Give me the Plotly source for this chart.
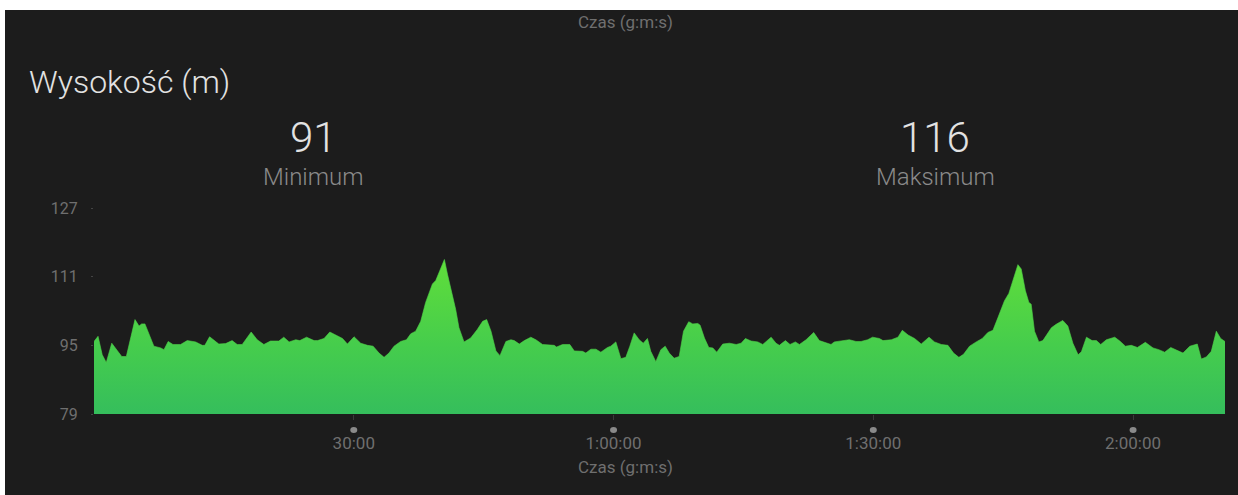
import plotly.graph_objects as go

# elapsed time in seconds
time_s = [0,28,57,85,123,192,224,284,312,330,353,415,462,485,514,547,600,646,704,750,768,801,865,912,957,992,1027,1089,1131,1177,1223,1281,1315,1352,1398,1426,1473,1525,1549,1594,1634,1675,1722,1756,1802,1848,1895,1934,1975,2010,2044,2079,2125,2165,2195,2229,2264,2298,2345,2368,2402,2428,2449,2483,2506,2529,2564,2610,2656,2693,2721,2751,2785,2813,2854,2889,2912,2947,2982,3027,3062,3108,3155,3189,3205,3247,3297,3328,3385,3408,3443,3478,3512,3558,3581,3616,3651,3685,3713,3743,3778,3806,3835,3858,3893,3928,3958,3986,4020,4055,4085,4121,4149,4184,4200,4230,4260,4288,4315,4357,4403,4450,4484,4514,4553,4599,4634,4661,4692,4726,4749,4791,4823,4860,4888,4934,4987,5026,5072,5107,5130,5187,5234,5280,5315,5361,5395,5442,5467,5525,5571,5601,5641,5686,5732,5786,5824,5871,5917,5956,5993,6025,6067,6113,6155,6194,6229,6263,6309,6339,6371,6402,6425,6454,6478,6494,6517,6547,6575,6634,6667,6713,6748,6783,6819,6842,6877,6916,6946,6976,7015,7073,7108,7147,7188,7230,7285,7338,7378,7419,7461,7507,7546,7593,7645,7673,7708,7742,7777,7807,7830,7837]

# elevation in metres
elevation_m = [95.9,97.1,92.8,91.0,95.5,92.4,92.4,101.0,99.5,100.0,100.0,94.8,94.4,94.0,95.9,95.2,95.2,96.1,95.8,95.0,95.0,97.0,95.3,95.4,96.1,95.2,95.2,98.1,96.3,95.2,96.0,96.0,96.9,95.8,96.3,96.1,96.9,96.1,96.1,96.6,98.1,97.4,96.6,95.3,97.0,95.5,95.0,94.8,93.2,92.2,93.2,94.8,95.9,96.3,97.7,98.3,100.6,105.0,109.3,110.1,112.8,115.0,111.6,107.0,103.4,99.1,95.8,96.7,98.7,100.6,101.0,98.3,93.7,92.6,95.9,96.3,96.1,95.3,96.1,96.9,96.3,95.2,95.0,95.0,94.6,95.2,95.2,93.7,93.6,93.2,94.1,94.1,93.4,94.5,94.8,95.8,91.9,92.2,94.8,97.9,96.3,95.5,96.6,93.6,91.2,94.0,94.8,93.2,92.0,92.4,98.3,100.5,100.0,100.1,99.7,96.7,94.5,94.4,93.4,95.3,95.5,95.2,95.5,96.6,96.0,95.8,95.2,96.0,96.9,95.5,95.0,96.1,95.2,95.8,95.2,96.3,98.0,96.1,95.5,95.2,95.8,96.1,96.3,95.9,95.9,96.3,96.9,96.6,96.1,96.3,96.9,98.5,97.4,96.6,95.3,96.9,95.8,95.2,95.0,93.2,92.2,92.9,94.8,95.8,96.6,98.0,98.5,101.4,105.4,107.1,110.5,113.8,112.8,107.7,105.0,104.6,98.3,95.8,96.1,99.1,99.9,100.8,99.5,95.5,92.8,93.5,96.9,96.1,96.1,95.2,96.3,96.9,96.0,94.8,95.0,94.5,95.7,94.4,94.0,93.4,94.5,93.7,93.2,94.8,95.3,91.8,92.3,93.6,98.3,96.6,95.9,95.9]

y_tick_vals = [79, 95, 111, 127]
x_tick_vals = [1800, 3600, 5400, 7200]
x_tick_text = ["30:00", "1:00:00", "1:30:00", "2:00:00"]

stat_values = ["91", "116"]
stat_labels = ["Minimum", "Maksimum"]

BG = "#1c1c1c"
GRAY = "#6f6f6f"
FONT = "Roboto"

W, H = 1238, 495
L, R, T, B = 94, 13, 208, 81
PW, PH = W - L - R, H - T - B

fig = go.Figure()
fig.add_trace(go.Scatter(
    x=time_s, y=elevation_m, mode="lines",
    line=dict(width=0.6, color="#4fd348"),
    fill="tozeroy",
    fillgradient=dict(type="vertical", start=79, stop=115,
                      colorscale=[[0, "#35be5c"], [0.45, "#46cd4c"], [1, "#60de3a"]]),
    hoverinfo="skip", showlegend=False,
))

shapes = [
    dict(type="rect", xref="paper", yref="paper", x0=-0.1, x1=1.1,
         y0=(H - B - 10) / PH, y1=(H - B + 20) / PH, fillcolor="white",
         line=dict(width=0), layer="above"),
    dict(type="rect", xref="paper", yref="paper", x0=-(L + 5) / PW, x1=-(L - 5) / PW,
         y0=-(B + 5) / PH, y1=(H - B + 5) / PH, fillcolor="white",
         line=dict(width=0), layer="above"),
]
# small dots above the x tick labels
for tv in x_tick_vals:
    shapes.append(dict(type="circle", xref="x", yref="paper",
                       xsizemode="pixel", ysizemode="pixel",
                       xanchor=tv, yanchor=-16 / PH,
                       x0=-3.5, x1=3.5, y0=-3, y1=3,
                       fillcolor="#8a8a8a", line=dict(width=0), layer="above"))

fig.update_layout(
    width=W, height=H,
    margin=dict(l=L, r=R, t=T, b=B),
    paper_bgcolor=BG, plot_bgcolor=BG,
    font=dict(family=FONT, color=GRAY, size=16),
    xaxis=dict(range=[0, 7837], tickvals=x_tick_vals, ticktext=x_tick_text,
               showgrid=False, zeroline=False, showline=False,
               ticks="outside", ticklen=5, tickcolor="#3a3a3a", tickwidth=1,
               tickfont=dict(family=FONT, size=17, color=GRAY), ticklabelstandoff=9),
    yaxis=dict(range=[79, 127], tickvals=y_tick_vals, showgrid=False, zeroline=False,
               showline=False, ticks="outside", ticklen=2, tickcolor="#444444",
               tickfont=dict(family=FONT, size=16, color=GRAY), ticklabelstandoff=10),
    shapes=shapes,
)

annotations = [
    dict(text="Wysokość (m)", x=27, y=82, xanchor="left",
         font=dict(size=32, color="#e2e2e2", family=FONT, weight=300)),
    dict(text="Czas (g:m:s)", x=625, y=22, xanchor="center",
         font=dict(size=17, color=GRAY, family=FONT)),
    dict(text="Czas (g:m:s)", x=625, y=467, xanchor="center",
         font=dict(size=17, color=GRAY, family=FONT)),
]
for cx, val, lab in zip([313, 935], stat_values, stat_labels):
    annotations.append(dict(text=val, x=cx, y=137, xanchor="center",
                            font=dict(size=42, color="#e2e2e2", family=FONT, weight=300)))
    annotations.append(dict(text=lab, x=cx, y=177, xanchor="center",
                            font=dict(size=24, color="#8a8a8a", family=FONT, weight=300)))

for a in annotations:
    px, py = a.pop("x"), a.pop("y")
    fig.add_annotation(xref="paper", yref="paper",
                       x=(px - L) / PW, y=(H - B - py) / PH,
                       yanchor="middle", showarrow=False, **a)

fig.write_html("out.html", config={"displayModeBar": False},
               post_script="document.body.style.margin='0px';document.body.style.overflow='hidden';")
